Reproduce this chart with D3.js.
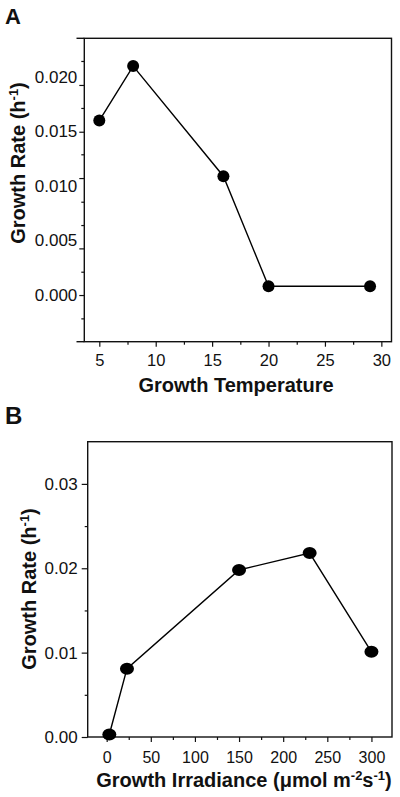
<!DOCTYPE html>
<html>
<head>
<meta charset="utf-8">
<script src="https://cdn.jsdelivr.net/npm/d3@7"></script>
<style>
  html, body { margin: 0; padding: 0; background: #fff; }
  svg { display: block; }
  text { font-family: "Liberation Sans", Arial, sans-serif; fill: #111; }
</style>
</head>
<body>
<svg id="chart" width="400" height="797"></svg>
<script>
// ---------- Panel A data ----------
const tempX = [5, 8, 16, 20, 29];
const tempRate = [0.0160, 0.0210, 0.0109, 0.0008, 0.0008];
const tempXTicks = [5, 10, 15, 20, 25, 30];
const tempXMinor = [7.5, 12.5, 17.5, 22.5, 27.5];
const tempYLabels = [0.000, 0.005, 0.010, 0.015, 0.020];
// tick marks as drawn in the original (not aligned with labels)
const tempYMajorMarks = [0, 0.00428, 0.01073, 0.01498, 0.01927];
const tempYMinorMarks = [-0.00214, 0.00214, 0.00642, 0.00856, 0.01291, 0.01716, 0.02147];
const tempXDomain = [3.67, 30.9];
const tempYDomain = [-0.00428, 0.02355];

// ---------- Panel B data ----------
const irrX = [3, 23, 150, 230, 300];
const irrRate = [0.0003, 0.0081, 0.0198, 0.0218, 0.0101];
const irrXTicks = [0, 50, 100, 150, 200, 250, 300];
const irrXMinor = [25, 75, 125, 175, 225, 275];
const irrYTicks = [0.00, 0.01, 0.02, 0.03];
const irrYMinor = [0.005, 0.015, 0.025];
const irrXDomain = [-21.5, 323.3];
const irrYDomain = [0, 0.035];

const svg = d3.select("#chart");

function panel(opt) {
  const g = svg.append("g");
  const x = d3.scaleLinear().domain(opt.xDomain).range([opt.left, opt.right]);
  const y = d3.scaleLinear().domain(opt.yDomain).range([opt.bottom, opt.top]);

  // frame
  g.append("rect")
    .attr("x", opt.left).attr("y", opt.top)
    .attr("width", opt.right - opt.left).attr("height", opt.bottom - opt.top)
    .attr("fill", "none").attr("stroke", "#111").attr("stroke-width", 1.4);

  // y tick marks
  const yMaj = g.append("g").attr("transform", `translate(${opt.left},0)`)
    .call(d3.axisLeft(y).tickValues(opt.yMajorMarks).tickSize(opt.yMajorLen).tickFormat(""));
  const yMin = g.append("g").attr("transform", `translate(${opt.left},0)`)
    .call(d3.axisLeft(y).tickValues(opt.yMinorMarks).tickSize(3).tickFormat(""));
  // y labels
  const yLab = g.append("g").attr("transform", `translate(${opt.left},0)`)
    .call(d3.axisLeft(y).tickValues(opt.yLabels).tickSize(0).tickPadding(opt.yPad).tickFormat(opt.yFormat));
  [yMaj, yMin, yLab].forEach(a => a.select(".domain").remove());
  yLab.selectAll("text").style("font-size", "17px").attr("fill", "#111")
    .attr("font-family", "Liberation Sans, Arial, sans-serif");

  // x ticks
  const xMaj = g.append("g").attr("transform", `translate(0,${opt.bottom})`)
    .call(d3.axisBottom(x).tickValues(opt.xTicks).tickSize(5).tickPadding(opt.xPad).tickFormat(d3.format("d")));
  const xMin = g.append("g").attr("transform", `translate(0,${opt.bottom})`)
    .call(d3.axisBottom(x).tickValues(opt.xMinor).tickSize(3).tickFormat(""));
  [xMaj, xMin].forEach(a => a.select(".domain").remove());
  xMaj.selectAll("text").style("font-size", opt.xFont + "px").attr("fill", "#111")
    .attr("font-family", "Liberation Sans, Arial, sans-serif");
  g.selectAll(".tick line").attr("stroke", "#111").attr("stroke-width", 1.2);

  // line
  const pts = opt.xs.map((v, i) => [v, opt.ys[i]]);
  g.append("path").datum(pts)
    .attr("fill", "none").attr("stroke", "#000").attr("stroke-width", 1.4)
    .attr("d", d3.line().x(d => x(d[0])).y(d => y(d[1])));
  g.selectAll("ellipse.pt").data(pts).enter().append("ellipse")
    .attr("cx", d => x(d[0])).attr("cy", d => y(d[1]))
    .attr("rx", opt.rx).attr("ry", opt.ry).attr("fill", "#000");

  // x title
  const xt = g.append("text")
    .attr("x", opt.xTitleX).attr("y", opt.xTitleY)
    .attr("text-anchor", "middle").style("font-size", "20px").style("font-weight", "bold");
  opt.xTitle(xt);

  // y title
  const yt = g.append("text")
    .attr("transform", `translate(${opt.yTitleX},${opt.yTitleY}) rotate(-90)`)
    .attr("text-anchor", "middle").style("font-size", "20px").style("font-weight", "bold");
  yt.append("tspan").text("Growth Rate (h");
  yt.append("tspan").text("-1").style("font-size", "13px").attr("dy", -7);
  yt.append("tspan").text(")").attr("dy", 7);

  // panel letter
  g.append("text").attr("x", 5).attr("y", opt.letterY)
    .style("font-size", opt.letterSize + "px").style("font-weight", "bold").text(opt.letter);
  return {x, y};
}

panel({
  left: 84.3, right: 391.5, top: 38.3, bottom: 341.7,
  xDomain: tempXDomain, yDomain: tempYDomain,
  xs: tempX, ys: tempRate,
  xTicks: tempXTicks, xMinor: tempXMinor, xPad: 8, xFont: 16.5,
  yLabels: tempYLabels, yMajorMarks: tempYMajorMarks, yMinorMarks: tempYMinorMarks,
  yMajorLen: 5, yPad: 7, yFormat: d3.format(".3f"),
  rx: 6, ry: 6,
  xTitleX: 236, xTitleY: 392,
  xTitle: t => t.text("Growth Temperature"),
  yTitleX: 25, yTitleY: 163,
  letter: "A", letterY: 23.5, letterSize: 22
});

panel({
  left: 87.7, right: 392, top: 441.7, bottom: 737,
  xDomain: irrXDomain, yDomain: irrYDomain,
  xs: irrX, ys: irrRate,
  xTicks: irrXTicks, xMinor: irrXMinor, xPad: 10, xFont: 16,
  yLabels: irrYTicks, yMajorMarks: irrYTicks, yMinorMarks: irrYMinor,
  yMajorLen: 6, yPad: 10, yFormat: d3.format(".2f"),
  rx: 7, ry: 6,
  xTitleX: 244, xTitleY: 787,
  xTitle: t => {
    t.append("tspan").text("Growth Irradiance (\u03bcmol m");
    t.append("tspan").text("-2").style("font-size", "13px").attr("dy", -7);
    t.append("tspan").text("s").attr("dy", 7);
    t.append("tspan").text("-1").style("font-size", "13px").attr("dy", -7);
    t.append("tspan").text(")").attr("dy", 7);
  },
  yTitleX: 36, yTitleY: 589,
  letter: "B", letterY: 423.5, letterSize: 24
});

// extensions of the top/bottom frame lines to the left in panel A
svg.append("g").selectAll("line").data([38.3, 341.7]).enter().append("line")
  .attr("x1", 76.5).attr("x2", 84.3).attr("y1", d => d).attr("y2", d => d)
  .attr("stroke", "#111").attr("stroke-width", 1.4);
</script>
</body>
</html>
